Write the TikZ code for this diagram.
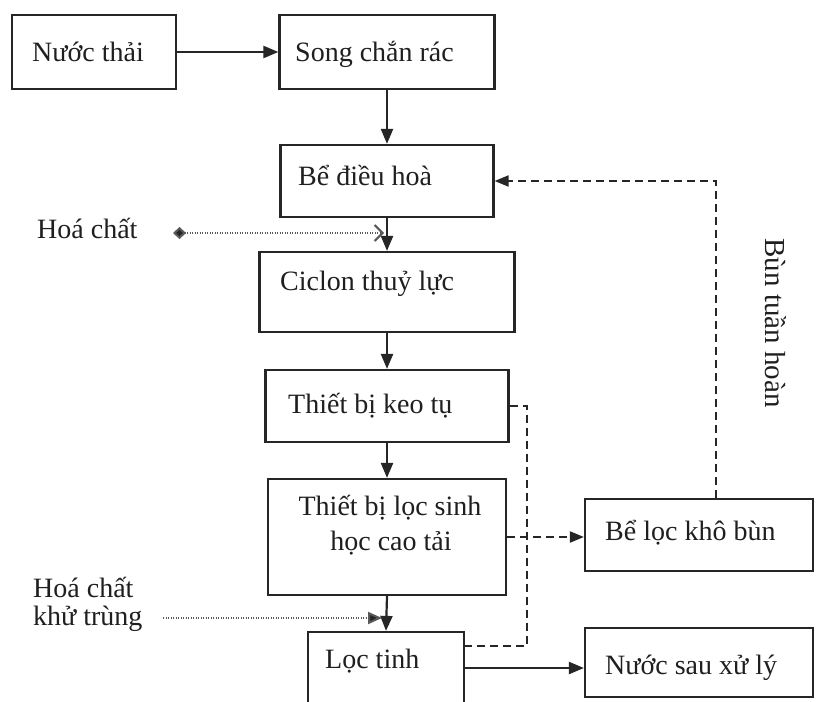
\documentclass[tikz,border=0pt]{standalone}
\usepackage{fontspec}
\setmainfont{Liberation Serif}
\usetikzlibrary{arrows.meta}
\begin{document}
\begin{tikzpicture}[x=1pt,y=-1pt,
  box/.style={draw=black!85, line width=2.2pt, inner sep=0pt},
  tx/.style={anchor=base west, inner sep=0pt, font=\fontsize{28}{32}\selectfont, text=black!88},
  txc/.style={anchor=base, inner sep=0pt, font=\fontsize{28}{32}\selectfont, text=black!88},
  flow/.style={draw=black!85, line width=2.2pt, -{Triangle[length=15pt,width=12pt]}},
  sludge/.style={draw=black!85, line width=2pt, dash pattern=on 8pt off 5pt},
  chem/.style={draw=black!65, line width=2pt, dash pattern=on 1.3pt off 1.2pt}]
\useasboundingbox (0,0) rectangle (816,701);
\clip (0,0) rectangle (816,701);
\fill[white] (0,0) rectangle (816,701);

% boxes
\node[box, minimum width=164pt, minimum height=74pt] (nt) at (94,52) {};
\node[box, minimum width=215pt, minimum height=74pt] (song) at (387,52) {};
\node[box, minimum width=213pt, minimum height=72pt] (bedh) at (387,181) {};
\node[box, minimum width=255pt, minimum height=80pt] (cic) at (387,292) {};
\node[box, minimum width=243pt, minimum height=72pt] (keo) at (387,406) {};
\node[box, minimum width=238pt, minimum height=116pt] (lsinh) at (387,537) {};
\node[box, minimum width=156pt, minimum height=100pt] (ltinh) at (386,682) {};
\node[box, minimum width=228pt, minimum height=72pt] (bkb) at (699,535) {};
\node[box, minimum width=228pt, minimum height=69pt] (ns) at (699,662.5) {};

% texts
\node[tx] (tnt) at (32,62) {Nước thải};
\node[tx] (tsong) at (295,62) {Song chắn rác};
\node[tx] (tbedh) at (298,185) {Bể điều hoà};
\node[tx] (tcic) at (280,290) {Ciclon thuỷ lực};
\node[tx] (tkeo) at (288,413) {Thiết bị keo tụ};
\node[txc] (tls1) at (390,515) {Thiết bị lọc sinh};
\node[txc] (tls2) at (391,550) {học cao tải};
\node[tx] (tlt) at (325,668) {Lọc tinh};
\node[tx] (tbkb) at (605,540) {Bể lọc khô bùn};
\node[tx] (tns) at (605,674) {Nước sau xử lý};
\node[tx] (thc) at (37,238) {Hoá chất};
\node[tx] (thk1) at (33,597) {Hoá chất};
\node[tx] (thk2) at (33,625) {khử trùng};
\node[anchor=center, inner sep=0pt, font=\fontsize{29}{32}\selectfont, text=black!88, rotate=-90] (tbth) at (776,323) {Bùn tuần hoàn};

% helper coordinates
\coordinate (hc1) at (173,233);
\coordinate (hc2) at (384,233);
\coordinate (hk1) at (163,618);
\coordinate (hk2) at (382,618);
\coordinate (rx) at (716,0);
\coordinate (cx) at (527,0);
\coordinate (ly) at (0,646);
\coordinate (ny) at (0,668);

% main flow
\draw[flow] (nt.east) -- (song.west);
\draw[flow] (song.south) -- (bedh.north);
\draw[flow] (bedh.south) -- (cic.north);
\draw[flow] (cic.south) -- (keo.north);
\draw[flow] (keo.south) -- (lsinh.north);
\draw[flow] (lsinh.south) -- (ltinh.north);
\draw[flow] (ltinh.east |- ny) -- (ns.west |- ny);

% chemicals
\draw[chem, {Diamond[length=13pt,width=12pt,fill=black!85]}-{Straight Barb[length=8pt,width=16pt]}] (hc1) -- (hc2);
\draw[chem, -{Triangle[length=14pt,width=12pt,fill=black!85]}] (hk1) -- (hk2);

% sludge
\draw[sludge] (keo.east) -| (cx |- ly) -- (ltinh.east |- ly);
\draw[sludge, -{Triangle[length=14pt,width=11pt]}] (lsinh.east) -- (lsinh.east -| bkb.west);
\draw[sludge, -{Triangle[length=14pt,width=11pt]}] (bkb.north -| rx) |- (bedh.east);
\end{tikzpicture}
\end{document}
